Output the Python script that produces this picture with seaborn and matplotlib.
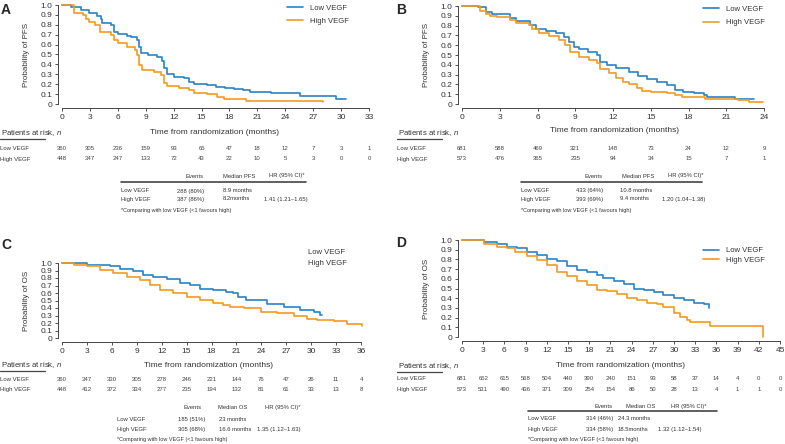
import numpy as np
import pandas as pd
import matplotlib
matplotlib.use('Agg')
import matplotlib.pyplot as plt
import matplotlib.transforms as mtransforms
from matplotlib.lines import Line2D
import seaborn as sns

# ---------------- KM curves (months, probability) ----------------

a_low_t = [0, 1.0, 2.0, 2.9, 3.8, 4.15, 4.35, 5.3, 5.6, 6.0, 7.0, 7.45, 8.1, 8.3, 8.45, 9.2, 10.2, 10.8, 11.0, 11.3, 12.0, 13.1, 13.6, 14.2, 15.6, 16.5, 17.5, 18.5, 19.5, 20.2, 22.5, 25.6, 29.4, 30.5]
a_low_s = [1.0, 0.975, 0.95, 0.916, 0.89, 0.855, 0.815, 0.80, 0.73, 0.705, 0.69, 0.68, 0.646, 0.58, 0.515, 0.49, 0.47, 0.43, 0.36, 0.30, 0.277, 0.26, 0.225, 0.20, 0.19, 0.17, 0.165, 0.155, 0.141, 0.118, 0.11, 0.081, 0.047, 0.047]
a_high_t = [0, 1.25, 2.3, 2.6, 2.95, 3.5, 4.1, 5.3, 5.6, 6.0, 7.0, 7.9, 8.1, 8.3, 8.6, 9.9, 10.6, 10.95, 11.3, 12.6, 13.6, 14.2, 15.6, 16.7, 17.4, 19.8, 28.1, 28.1]
a_high_s = [1.0, 0.92, 0.90, 0.86, 0.83, 0.80, 0.73, 0.70, 0.646, 0.613, 0.58, 0.545, 0.495, 0.394, 0.343, 0.327, 0.293, 0.21, 0.182, 0.165, 0.141, 0.114, 0.098, 0.074, 0.047, 0.035, 0.035, 0.025]

b_low_t = [0, 1.3, 1.9, 2.4, 3.8, 4.3, 5.4, 5.9, 6.7, 7.5, 8.1, 8.5, 8.9, 9.3, 10.0, 10.7, 11.0, 11.5, 12.2, 13.3, 14.0, 14.7, 15.5, 16.3, 16.9, 17.6, 18.4, 19.2, 19.5, 21.7, 23.2]
b_low_s = [1.0, 0.987, 0.94, 0.918, 0.874, 0.85, 0.806, 0.77, 0.748, 0.72, 0.687, 0.636, 0.585, 0.557, 0.534, 0.50, 0.43, 0.397, 0.364, 0.33, 0.285, 0.252, 0.228, 0.194, 0.143, 0.126, 0.116, 0.092, 0.068, 0.054, 0.054]
b_high_t = [0, 1.4, 1.9, 2.2, 2.8, 3.8, 4.3, 5.3, 5.55, 6.1, 6.9, 7.7, 8.2, 8.6, 9.3, 10.1, 10.7, 11.0, 11.7, 12.2, 12.8, 13.3, 13.9, 14.3, 15.0, 16.3, 16.9, 17.5, 19.3, 21.9, 22.8, 23.95]
b_high_s = [1.0, 0.95, 0.918, 0.898, 0.884, 0.857, 0.83, 0.806, 0.762, 0.72, 0.694, 0.653, 0.602, 0.534, 0.483, 0.449, 0.415, 0.354, 0.313, 0.262, 0.228, 0.204, 0.16, 0.136, 0.126, 0.116, 0.092, 0.075, 0.048, 0.041, 0.024, 0.024]

c_low_t = [0, 3.0, 5.8, 7.0, 8.6, 9.8, 11.0, 12.6, 14.2, 15.4, 16.6, 18.2, 19.8, 20.6, 21.2, 22.2, 24.7, 26.7, 28.7, 30.3, 31.1, 31.3]
c_low_s = [1.0, 0.98, 0.955, 0.92, 0.89, 0.84, 0.82, 0.785, 0.74, 0.71, 0.66, 0.64, 0.62, 0.60, 0.55, 0.51, 0.46, 0.42, 0.37, 0.35, 0.31, 0.31]
c_high_t = [0, 1.5, 3.0, 4.6, 6.2, 7.8, 9.4, 10.6, 11.8, 13.4, 15.0, 16.6, 18.2, 19.4, 20.2, 21.9, 23.9, 25.9, 27.9, 29.5, 30.7, 32.7, 34.3, 36.1]
c_high_s = [1.0, 0.98, 0.955, 0.91, 0.865, 0.82, 0.77, 0.71, 0.64, 0.60, 0.55, 0.51, 0.47, 0.44, 0.41, 0.395, 0.35, 0.33, 0.29, 0.26, 0.24, 0.224, 0.193, 0.16]

d_low_t = [0, 3.1, 5.0, 6.4, 7.8, 9.2, 10.6, 12.0, 13.4, 14.9, 16.3, 17.7, 19.1, 20.0, 21.5, 22.9, 24.3, 25.7, 27.1, 28.5, 30.0, 31.4, 32.8, 34.2, 34.9, 35.0]
d_low_s = [1.0, 0.976, 0.96, 0.93, 0.915, 0.88, 0.845, 0.805, 0.78, 0.735, 0.69, 0.665, 0.64, 0.605, 0.58, 0.55, 0.50, 0.485, 0.46, 0.435, 0.40, 0.385, 0.35, 0.34, 0.315, 0.30]
d_high_t = [0, 3.1, 5.0, 6.4, 7.5, 9.2, 10.6, 12.0, 13.4, 14.9, 16.3, 17.7, 19.1, 20.5, 21.9, 23.3, 24.8, 26.2, 27.6, 28.5, 30.0, 30.9, 31.8, 32.3, 35.1, 42.6, 42.6]
d_high_s = [1.0, 0.96, 0.93, 0.915, 0.88, 0.835, 0.795, 0.745, 0.675, 0.625, 0.58, 0.54, 0.485, 0.47, 0.445, 0.40, 0.385, 0.355, 0.34, 0.31, 0.245, 0.205, 0.18, 0.15, 0.11, 0.11, 0.0]

# ---------------- patients at risk ----------------

a_risk_low = [360, 305, 236, 159, 93, 65, 47, 18, 12, 7, 3, 1]
a_risk_high = [448, 347, 247, 133, 72, 43, 22, 10, 5, 3, 0, 0]
b_risk_low = [681, 588, 469, 321, 148, 73, 24, 12, 9]
b_risk_high = [573, 476, 365, 235, 94, 34, 15, 7, 1]
c_risk_low = [360, 347, 330, 305, 278, 246, 221, 144, 76, 47, 26, 11, 4]
c_risk_high = [448, 412, 372, 334, 277, 235, 194, 132, 81, 61, 33, 13, 8]
d_risk_low = [681, 652, 615, 568, 504, 440, 390, 240, 151, 93, 58, 37, 14, 4, 0, 0]
d_risk_high = [573, 531, 490, 436, 371, 309, 254, 154, 86, 50, 28, 13, 4, 1, 1, 0]

# ---------------- summary tables ----------------

a_stats = [['288 (80%)', '8.9 months', ''], ['387 (86%)', '8.2months', '1.41 (1.21\u20131.65)']]
b_stats = [['433 (64%)', '10.8 months', ''], ['393 (69%)', '9.4 months', '1.20 (1.04\u20131.38)']]
c_stats = [['185 (51%)', '23 months', ''], ['305 (68%)', '16.6 months', '1.35 (1.12\u20131.63)']]
d_stats = [['314 (46%)', '24.3 months', ''], ['334 (58%)', '18.5months', '1.32 (1.12\u20131.54)']]

groups = ['Low VEGF', 'High VEGF']
footnote = '*Comparing with low VEGF (<1 favours high)'

# ---------------- style ----------------

sns.set_theme(style='ticks')
plt.rcParams['font.family'] = ['Liberation Sans', 'DejaVu Sans']
plt.rcParams['mathtext.fontset'] = 'custom'
plt.rcParams['mathtext.rm'] = 'Liberation Sans'
plt.rcParams['mathtext.it'] = 'Liberation Sans:italic'

blue = '#2a83c5'
orange = '#f29b20'
txt = '#333333'

W, H = 785, 444
fig = plt.figure(figsize=(W / 100, H / 100), dpi=100)


def fx(x):
    return x / W


def fy(y):
    return 1 - y / H


def hline(x0, x1, y, lw):
    fig.add_artist(Line2D([fx(x0), fx(x1)], [fy(y), fy(y)], color='#444444', lw=lw, transform=fig.transFigure))


def km_panel(box, xmax, low_t, low_s, high_t, high_s, ylabel, letter, letter_xy):
    l, t, r, b = box
    ax = fig.add_axes([fx(l), fy(b), (r - l) / W, (b - t) / H])
    df = pd.concat([pd.DataFrame({'time': low_t, 'surv': low_s, 'group': groups[0]}),
                    pd.DataFrame({'time': high_t, 'surv': high_s, 'group': groups[1]})])
    sns.lineplot(data=df, x='time', y='surv', hue='group', hue_order=groups,
                 palette={groups[0]: blue, groups[1]: orange}, estimator=None, sort=False,
                 drawstyle='steps-post', lw=1.2, ax=ax, clip_on=False)
    ax.set_xlim(0, xmax)
    ax.set_ylim(0, 1)
    ax.set_xticks(range(0, xmax + 1, 3))
    yt = np.round(np.arange(0, 1.01, 0.1), 1)
    ax.set_yticks(yt)
    ax.set_yticklabels(['0'] + ['%.1f' % v for v in yt[1:]])
    ax.tick_params(labelsize=6, length=2.5, width=0.6, pad=1.5, colors=txt)
    ax.set_xlabel('')
    ax.set_ylabel('')
    # y axis title placed by hand, 35 px left of the plot
    fig.text(fx(l - 35), fy((t + b) / 2), ylabel, rotation=90, fontsize=5.8, color=txt, ha='center', va='center')
    sns.despine(ax=ax, offset=3, trim=True)
    for s in ['left', 'bottom']:
        ax.spines[s].set_linewidth(0.7)
        ax.spines[s].set_color('#444444')
    fig.text(fx(letter_xy[0]), fy(letter_xy[1]), letter, fontsize=10, fontweight='bold', ha='left', va='top')
    return ax


def set_legend(ax, x, y, spacing, show_lines=True):
    old = ax.get_legend()
    handles = old.legend_handles
    labels = [tt.get_text() for tt in old.get_texts()]
    leg = ax.legend(handles, labels, loc='upper left', bbox_to_anchor=(fx(x), fy(y)),
                    bbox_transform=fig.transFigure, frameon=False, borderpad=0, borderaxespad=0,
                    fontsize=5.5, handlelength=2.1 if show_lines else 0,
                    handletextpad=0.9 if show_lines else 0, labelspacing=spacing)
    for tt in leg.get_texts():
        tt.set_color(txt)
    for h in leg.legend_handles:
        h.set_linewidth(1.2)
        if not show_lines:
            h.set_visible(False)


def risk_table(ax, label_x, title_y, low_y, high_y, low_vals, high_vals, time_xy):
    fig.text(fx(time_xy[0]), fy(time_xy[1]), 'Time from randomization (months)', fontsize=6,
             ha='center', va='center', color=txt)
    fig.text(fx(label_x + 1), fy(title_y), 'Patients at risk, $n$', fontsize=5.6, ha='left', va='center', color=txt)
    hline(label_x, label_x + 45, title_y + 6, 0.9)
    fig.text(fx(label_x), fy(low_y), groups[0], fontsize=4.3, ha='left', va='center', color=txt)
    fig.text(fx(label_x), fy(high_y), groups[1], fontsize=4.3, ha='left', va='center', color=txt)
    trans = mtransforms.blended_transform_factory(ax.transData, fig.transFigure)
    for i, (lo, hi) in enumerate(zip(low_vals, high_vals)):
        ax.text(i * 3, fy(low_y), str(lo), transform=trans, fontsize=4.3, ha='center', va='center', color='#444444')
        ax.text(i * 3, fy(high_y), str(hi), transform=trans, fontsize=4.3, ha='center', va='center', color='#444444')


def stat_table(x0, x1, ys, heads, head_x, val_x, stats, line_y=None):
    y_head, y_low, y_high, y_note = ys
    for h, hx in zip(heads, head_x):
        fig.text(fx(hx), fy(y_head), h, fontsize=4.2, ha='center', va='center', color=txt)
    if line_y is not None:
        hline(x0, x1, line_y, 1.2)
    for g, row, y in zip(groups, stats, [y_low, y_high]):
        fig.text(fx(x0), fy(y), g, fontsize=4.2, ha='left', va='center', color=txt)
        for v, vx in zip(row, val_x):
            fig.text(fx(vx), fy(y), v, fontsize=4.2, ha='left', va='center', color=txt)
    fig.text(fx(x0), fy(y_note), footnote, fontsize=4.0, ha='left', va='center', color=txt)


# ---------------- A: PFS ----------------
ax_a = km_panel((62, 5, 369, 104), 33, a_low_t, a_low_s, a_high_t, a_high_s, 'Probability of PFS', 'A', (1, 3))
set_legend(ax_a, 287, 4.5, 0.75)
risk_table(ax_a, 0, 133, 148, 159, a_risk_low, a_risk_high, (215, 133))
stat_table(121, 306, (176, 191, 199, 210), ['Events', 'Median PFS', 'HR (95% CI)*'], [195, 239, 287],
           [177, 223, 264], a_stats, line_y=182)

# ---------------- B: PFS ----------------
ax_b = km_panel((462, 6, 764, 104), 24, b_low_t, b_low_s, b_high_t, b_high_s, 'Probability of PFS', 'B', (396, 3))
set_legend(ax_b, 703, 5.5, 0.8)
risk_table(ax_b, 397, 133, 149, 159, b_risk_low, b_risk_high, (615, 131))
stat_table(521, 702, (176, 190, 199, 210), ['Events', 'Median PFS', 'HR (95% CI)*'], [594, 638, 686],
           [576, 620, 662], b_stats, line_y=182)

# ---------------- C: OS ----------------
ax_c = km_panel((62, 263, 361, 338), 36, c_low_t, c_low_s, c_high_t, c_high_s, 'Probability of OS', 'C', (1, 238))
set_legend(ax_c, 308, 249, 0.45, show_lines=False)
risk_table(ax_c, 0, 365, 379, 389, c_risk_low, c_risk_high, (209, 365))
stat_table(117, 306, (407, 419, 429, 439), ['Events', 'Median OS', 'HR (95% CI)*'], [193, 233, 283],
           [178, 219, 257], c_stats)

# ---------------- D: OS ----------------
ax_d = km_panel((462, 240, 780, 337), 45, d_low_t, d_low_s, d_high_t, d_high_s, 'Probability of OS', 'D', (396, 236))
set_legend(ax_d, 703, 247, 0.25)
risk_table(ax_d, 397, 366, 378, 389, d_risk_low, d_risk_high, (621, 365))
stat_table(528, 717, (406, 418, 429, 439), ['Events', 'Median OS', 'HR (95% CI)*'], [604, 641, 689],
           [586, 618, 658], d_stats, line_y=411)

fig.savefig('out.png', dpi=100)
